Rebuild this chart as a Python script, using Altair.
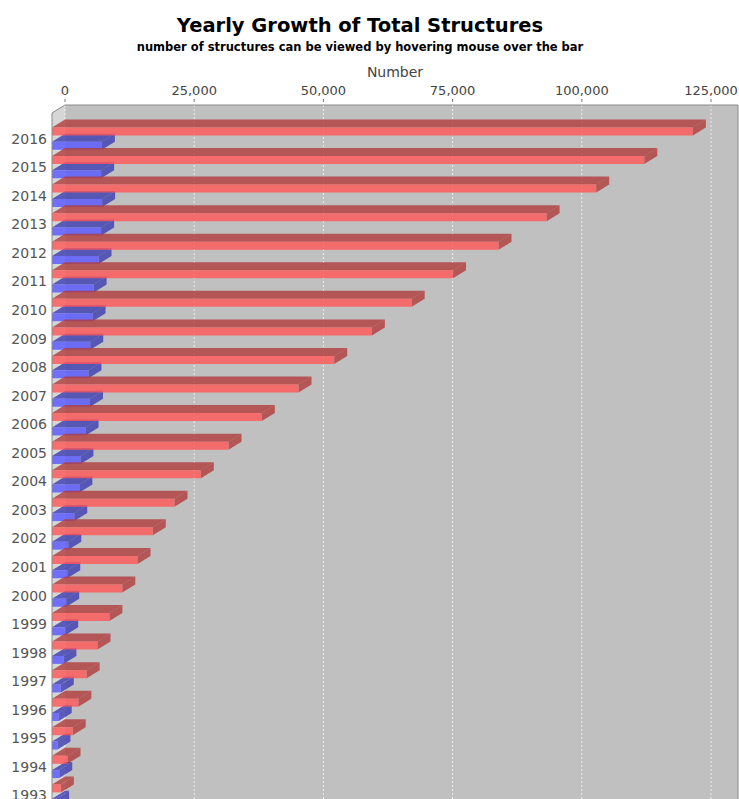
import altair as alt
import pandas as pd

# ---- data -------------------------------------------------------------
YEARS = list(range(2016, 1992, -1))
TOTAL = [124000, 114600, 105300, 95700, 86400, 77600, 69600, 61900, 54600,
         47700, 40600, 34150, 28800, 23700, 19500, 16550, 13600, 11100,
         8800, 6700, 5100, 4000, 3000, 1700]
NEW = [9650, 9500, 9700, 9500, 9000, 8050, 7850, 7400, 7050, 7350, 6500,
       5500, 5300, 4300, 3150, 2950, 2750, 2550, 2200, 1700, 1300, 1050,
       1400, 800]
X_TICKS = [0, 25000, 50000, 75000, 100000, 125000]

# ---- geometry of the pseudo-3D plot ---------------------------------
PLOT_W, PLOT_H = 686, 694          # plot area in pixels
PAD_L, PAD_T = 52, 105
ROW_PX = 28.56                     # pixels per category row
UNITS_PER_PX = 25000 / 129.2       # value units per horizontal pixel
DEPTH_X_PX, DEPTH_Y_PX = 13, 8     # 3D depth offset
BAR_PX = 8                         # bar thickness

D = DEPTH_X_PX * UNITS_PER_PX      # depth in value units
DY = DEPTH_Y_PX / ROW_PX           # depth in row units
H = BAR_PX / ROW_PX                # bar thickness in row units
X_MIN = -D
X_MAX = X_MIN + PLOT_W * UNITS_PER_PX
Y_TOP = (PAD_T - 138.6) / ROW_PX
Y_BOT = Y_TOP + PLOT_H / ROW_PX

SERIES = [
    ("New structures", NEW, "#5555ff", "#3b3bb2", 3.2 / ROW_PX),
    ("Total structures", TOTAL, "#ff5555", "#b23b3b", -11.1 / ROW_PX),
]

X_SCALE = alt.Scale(domain=[X_MIN, X_MAX], nice=False, zero=False)
Y_SCALE = alt.Scale(domain=[Y_TOP, Y_BOT], nice=False, zero=False, reverse=True)
AXIS_GREY = "#444444"


def clamp01(t):
    return max(0.0, min(1.0, t))


def build_series(values, offset):
    fronts, tops, sides = [], [], []
    for i, (year, v) in enumerate(zip(YEARS, values)):
        yf = i + offset
        fronts.append({"year": str(year), "value": v,
                       "x": -D, "x2": v - D, "y": yf, "y2": yf + H})
        xs = sorted({-D, 0.0, v - D, float(v)})
        for x in xs:
            tops.append({"id": i, "x": x,
                         "y": yf - DY * clamp01((x + D) / D),
                         "y2": yf - DY * clamp01((x - (v - D)) / D)})
        sides.append({"id": i, "x": v - D, "y": yf, "y2": yf + H})
        sides.append({"id": i, "x": float(v), "y": yf - DY, "y2": yf + H - DY})
    return pd.DataFrame(fronts), pd.DataFrame(tops), pd.DataFrame(sides)


def area_layer(df, colour, opacity=0.8):
    return alt.Chart(df).mark_area(color=colour, opacity=opacity).encode(
        x=alt.X("x:Q", scale=X_SCALE, axis=None),
        y=alt.Y("y:Q", scale=Y_SCALE, axis=None),
        y2=alt.Y2("y2:Q"),
        detail="id:N",
    )


# ---- walls, frame and value axis -------------------------------------
wall_left = pd.DataFrame([
    {"id": 0, "x": -D, "y": Y_TOP + DY, "y2": Y_BOT},
    {"id": 0, "x": 0.0, "y": Y_TOP, "y2": Y_BOT},
])
corner = pd.DataFrame([
    {"id": 0, "x": -D, "y": Y_TOP, "y2": Y_TOP + DY},
    {"id": 0, "x": 0.0, "y": Y_TOP, "y2": Y_TOP},
])
frame_rules = pd.DataFrame([
    {"x": 0.0, "x2": X_MAX, "y": Y_TOP, "y2": Y_TOP},
    {"x": X_MAX, "x2": X_MAX, "y": Y_TOP, "y2": Y_BOT},
    {"x": -D, "x2": -D, "y": Y_TOP + DY, "y2": Y_BOT},
])
frame_slant = pd.DataFrame([
    {"k": 0, "x": -D, "y": Y_TOP + DY},
    {"k": 1, "x": 0.0, "y": Y_TOP},
])
ticks = pd.DataFrame({"v": X_TICKS, "y": Y_TOP, "y2": Y_BOT})
year_labels = pd.DataFrame({"pos": list(range(len(YEARS))),
                            "label": [str(y) for y in YEARS]})

x_tick = alt.X("v:Q", scale=X_SCALE, axis=None)

grid = alt.Chart(ticks).mark_rule(
    color="#ffffff", opacity=0.7, strokeDash=[2, 2], strokeWidth=1
).encode(x=x_tick, y=alt.Y("y:Q", scale=Y_SCALE, axis=None), y2="y2:Q")

tick_marks = alt.Chart(ticks).mark_rule(color="#777777", strokeWidth=1).encode(
    x=x_tick, y=alt.value(-6), y2=alt.value(-3)
)
tick_labels = alt.Chart(ticks).mark_text(
    font="DejaVu Sans", fontSize=13, color=AXIS_GREY, baseline="alphabetic",
    align="center",
).encode(x=x_tick, y=alt.value(-10.5), text=alt.Text("v:Q", format=",d"))

axis_title = alt.Chart(pd.DataFrame({"t": ["Number"]})).mark_text(
    font="DejaVu Sans", fontSize=14, color=AXIS_GREY, baseline="alphabetic",
    align="center",
).encode(x=alt.value(PLOT_W / 2), y=alt.value(-28.5), text="t:N")

layers = [
    area_layer(wall_left, "#d6d6d6", 1.0),
    grid,
    area_layer(corner, "#ffffff", 1.0),
]

for name, values, front, dark, offset in SERIES:
    fronts, tops, sides = build_series(values, offset)
    fronts["series"] = name
    layers.append(area_layer(tops, dark))
    layers.append(area_layer(sides, dark))
    layers.append(
        alt.Chart(fronts).mark_rect(color=front, opacity=0.8).encode(
            x=alt.X("x:Q", scale=X_SCALE, axis=None),
            x2="x2:Q",
            y=alt.Y("y:Q", scale=Y_SCALE, axis=None),
            y2="y2:Q",
            tooltip=[alt.Tooltip("series:N", title="Series"),
                     alt.Tooltip("year:N", title="Year"),
                     alt.Tooltip("value:Q", title="Structures", format=",d")],
        )
    )

layers += [
    alt.Chart(frame_rules).mark_rule(color="#8a8a8a", strokeWidth=1).encode(
        x=alt.X("x:Q", scale=X_SCALE, axis=None), x2="x2:Q",
        y=alt.Y("y:Q", scale=Y_SCALE, axis=None), y2="y2:Q",
    ),
    alt.Chart(frame_slant).mark_line(color="#8a8a8a", strokeWidth=1).encode(
        x=alt.X("x:Q", scale=X_SCALE, axis=None),
        y=alt.Y("y:Q", scale=Y_SCALE, axis=None),
        order="k:Q",
    ),
    tick_marks,
    tick_labels,
    axis_title,
    # category labels along the left edge
    alt.Chart(year_labels).mark_text(
        align="right", baseline="middle", font="DejaVu Sans", fontSize=14,
        color="#555555", dy=1,
    ).encode(
        x=alt.value(-5),
        y=alt.Y("pos:Q", scale=Y_SCALE, axis=None),
        text="label:N",
    ),
]

chart = alt.layer(*layers).properties(
    width=PLOT_W,
    height=PLOT_H,
    padding={"left": PAD_L, "top": PAD_T, "right": 1, "bottom": 0},
    autosize=alt.AutoSizeParams(type="none"),
    background="#ffffff",
    title=alt.Title(
        "Yearly Growth of Total Structures",
        subtitle="number of structures can be viewed by hovering mouse over the bar",
        font="DejaVu Sans", fontSize=19.5, fontWeight="bold", color="#000000",
        subtitleFont="DejaVu Sans", subtitleFontSize=11.5,
        subtitleFontWeight="bold", subtitleColor="#000000",
        anchor="middle", dx=-35, offset=11, subtitlePadding=6,
    ),
).configure_view(fill="#c0c0c0", strokeWidth=0)

chart.save("out.html", embed_options={"renderer": "svg", "actions": False})
